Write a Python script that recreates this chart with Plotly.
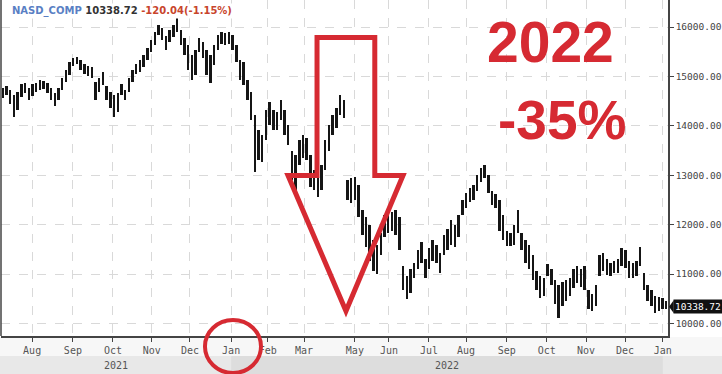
import plotly.graph_objects as go

# ---------------- data ----------------
symbol = "NASD_COMP"
last_price = 10338.72
change = -120.04
change_pct = -1.15

# one bar = ~2 trading days, Jul 2021 -> Jan 2023 (highs / lows)
highs = [
    14760, 14800, 14720, 14620, 14680, 14840, 14860, 14760, 14840, 14860,
    14920, 14900, 14860, 14760, 14660, 14760, 14960, 15130, 15290, 15370,
    15390, 15330, 15250, 15210, 15190, 14890, 14960, 15090, 14800, 14680,
    14620, 14660, 14840, 14720, 14960, 15130, 15250, 15330, 15430, 15570,
    15740, 15900, 16040, 15980, 15820, 15940, 16040, 16180, 15940, 15780,
    15640, 15430, 15530, 15780, 15700, 15530, 15430, 15640, 15840, 15900,
    15880, 15900, 15840, 15640, 15330, 15290, 14930, 14680, 14220, 13910,
    13810, 14320, 14480, 14320, 14280, 14520, 14320, 14010, 13500, 13400,
    13710, 13810, 13750, 13400, 13100, 13060, 13200, 13710, 14010, 14220,
    14360, 14620, 14520, 12900, 12940, 12960, 12800, 12290, 12150, 11990,
    11680, 11580, 11840, 12190, 12230, 12250, 12290, 12150, 11170, 10950,
    11110, 11230, 11480, 11640, 11310, 11520, 11680, 11580, 11430, 11780,
    11920, 12090, 11990, 12190, 12490, 12650, 12750, 12800, 13000, 13140,
    13200, 13000, 12690, 12630, 12490, 12190, 11880, 11840, 11990, 12290,
    11840, 11680, 11580, 11380, 11070, 10970, 10910, 11210, 11110, 10870,
    10770, 10830, 10870, 10910, 11110, 11170, 11110, 11170, 10670, 10600,
    10770, 11380, 11430, 11310, 11230, 11270, 11310, 11520, 11480, 11270,
    11230, 11270, 11540, 11030, 10770, 10670, 10560, 10540, 10520, 10460,
]
lows = [
    14560, 14620, 14440, 14180, 14320, 14580, 14660, 14520, 14600, 14680,
    14720, 14740, 14660, 14520, 14400, 14520, 14720, 14880, 15030, 15210,
    15250, 15130, 15050, 15010, 14970, 14520, 14680, 14820, 14520, 14360,
    14180, 14280, 14620, 14520, 14680, 14880, 15050, 15090, 15190, 15330,
    15490, 15640, 15840, 15740, 15530, 15700, 15800, 15900, 15640, 15430,
    15130, 14930, 15030, 15490, 15370, 15030, 14860, 15230, 15530, 15660,
    15640, 15660, 15530, 15290, 14930, 14820, 14520, 14110, 13060, 13300,
    13260, 13710, 14010, 13910, 13910, 14110, 13810, 13610, 12900, 12590,
    13200, 13340, 13300, 12760, 12700, 12550, 12700, 13100, 13500, 13810,
    13950, 14220, 14150, 12490, 12430, 12490, 12150, 11780, 11540, 11270,
    11070, 11010, 11380, 11740, 11840, 11880, 11780, 11480, 10670, 10500,
    10620, 10910, 11110, 11230, 10910, 11110, 11270, 11230, 11030, 11380,
    11480, 11580, 11540, 11740, 12190, 12330, 12450, 12490, 12690, 12860,
    12940, 12650, 12390, 12330, 11880, 11680, 11560, 11560, 11580, 11840,
    11480, 11230, 11110, 10870, 10670, 10520, 10560, 10970, 10770, 10400,
    10100, 10360, 10460, 10560, 10710, 10810, 10730, 10670, 10300, 10260,
    10360, 10970, 11070, 10990, 10950, 11030, 11030, 11170, 11130, 10910,
    10910, 10970, 11170, 10670, 10460, 10360, 10220, 10260, 10300, 10300,
]

month_labels = ["Aug", "Sep", "Oct", "Nov", "Dec", "Jan", "Feb", "Mar", "May",
                "Jun", "Jul", "Aug", "Sep", "Oct", "Nov", "Dec", "Jan"]
month_pos = [7.9, 18.9, 29.7, 40.2, 50.5, 61.6, 71.5, 81.3, 95.0,
             104.2, 115.0, 125.0, 136.0, 146.8, 157.4, 167.9, 178.1]
year_labels = ["2021", "2022"]
year_start = [-0.5, 61.6]
year_end = [61.6, 178.1]
price_ticks = [10000, 11000, 12000, 13000, 14000, 15000, 16000]

big_label = "2022"
big_change = "-35%"

# ---------------- figure ----------------
MONO = "DejaVu Sans Mono"
RED = "#d62a32"
bar_x = list(range(len(highs)))

fig = go.Figure(
    go.Bar(
        x=bar_x,
        y=[h - l for h, l in zip(highs, lows)],
        base=lows,
        width=0.66,
        marker=dict(color="#151515", line=dict(width=0)),
        hoverinfo="skip",
    )
)

axis_common = dict(
    showgrid=True, gridcolor="#d9d9d9", griddash="dash", gridwidth=1,
    zeroline=False, showline=True, linecolor="#444444", linewidth=1.5,
    ticks="outside", ticklen=4, tickcolor="#444444", tickwidth=1,
    tickfont=dict(family=MONO, size=10, color="#555555"),
)

fig.update_layout(
    width=722, height=374,
    margin=dict(l=1, r=54, t=0, b=38),
    paper_bgcolor="white", plot_bgcolor="white",
    showlegend=False, bargap=0,
    xaxis=dict(range=[-0.5, len(highs) - 0.5], tickmode="array",
               tickvals=month_pos, ticktext=month_labels, **axis_common),
    yaxis=dict(range=[9745, 16548], side="right", tickmode="array",
               tickvals=price_ticks, tickformat=".2f", **axis_common),
)
fig.update_yaxes(tickfont=dict(family=MONO, size=9.5, color="#444444"))

shapes = [
    # left frame line
    dict(type="line", xref="paper", yref="paper", x0=0, x1=0, y0=0, y1=1,
         line=dict(color="#444444", width=1.5)),
    # month label row + year band
    dict(type="rect", xref="paper", yref="paper", x0=-0.01, x1=1.09,
         y0=-0.0595, y1=-0.003, fillcolor="#f7f7f7", line=dict(width=0),
         layer="below"),
    dict(type="rect", xref="paper", yref="paper", x0=-0.01, x1=1.09,
         y0=-0.12, y1=-0.0595, fillcolor="#e8e8e8", line=dict(width=0),
         layer="below"),
    dict(type="rect", xref="x", yref="paper", x0=year_start[1], x1=year_end[1],
         y0=-0.12, y1=-0.0595, fillcolor="#dddddd", line=dict(width=0),
         layer="below"),
    # price tag pointer
    dict(type="path", xref="paper", yref="y",
         path=f"M 1.0015 {last_price} L 1.0085 {last_price + 130} "
              f"L 1.0085 {last_price - 130} Z",
         fillcolor="#111111", line=dict(width=0)),
    # hand-drawn red arrow
    dict(type="path", xref="paper", yref="paper",
         path="M 0.4738 0.8884 L 0.5604 0.8884 L 0.5604 0.4777 L 0.6027 0.4777 "
              "L 0.5172 0.0744 L 0.4303 0.4777 L 0.4738 0.4777 Z",
         line=dict(color=RED, width=5), fillcolor="rgba(0,0,0,0)"),
    # red circle around Jan
    dict(type="circle", xref="paper", yref="paper",
         x0=0.3058, x1=0.3898, y0=-0.110, y1=0.0476,
         line=dict(color=RED, width=4)),
]

annotations = [
    dict(xref="paper", yref="paper", x=0, y=1, xanchor="left", yanchor="top",
         xshift=9, yshift=-3, showarrow=False, bgcolor="white",
         text=(f"<b><span style='color:#5a7fc4'>{symbol}</span> "
               f"<span style='color:#333333'>{last_price:.2f}</span> "
               f"<span style='color:#c8452c'>{change:.2f}({change_pct:.2f}%)</span></b>"),
         font=dict(family="DejaVu Sans", size=10)),
    dict(xref="paper", yref="y", x=1, y=last_price, xanchor="left",
         yanchor="middle", xshift=5, showarrow=False, bgcolor="#111111",
         borderpad=1, text=f"{last_price:.2f}",
         font=dict(family=MONO, size=9.5, color="white")),
    dict(xref="paper", yref="paper", x=0.8238, y=0.875, xanchor="center",
         yanchor="middle", showarrow=False, text=f"<b>{big_label}</b>",
         font=dict(family="Liberation Sans", size=57, color=RED)),
    dict(xref="paper", yref="paper", x=0.8411, y=0.643, xanchor="center",
         yanchor="middle", showarrow=False, text=f"<b>{big_change}</b>",
         font=dict(family="Liberation Sans", size=55, color=RED)),
]
for lab, s, e in zip(year_labels, year_start, year_end):
    annotations.append(dict(xref="x", yref="paper", x=(s + e) / 2, y=-0.087,
                            xanchor="center", yanchor="middle", showarrow=False,
                            text=lab, font=dict(family=MONO, size=10,
                                                color="#555555")))

fig.update_layout(shapes=shapes, annotations=annotations)
fig.write_html(
    "out.html",
    config={"displayModeBar": False},
    post_script="document.body.style.margin='0';document.body.style.padding='0';",
)
